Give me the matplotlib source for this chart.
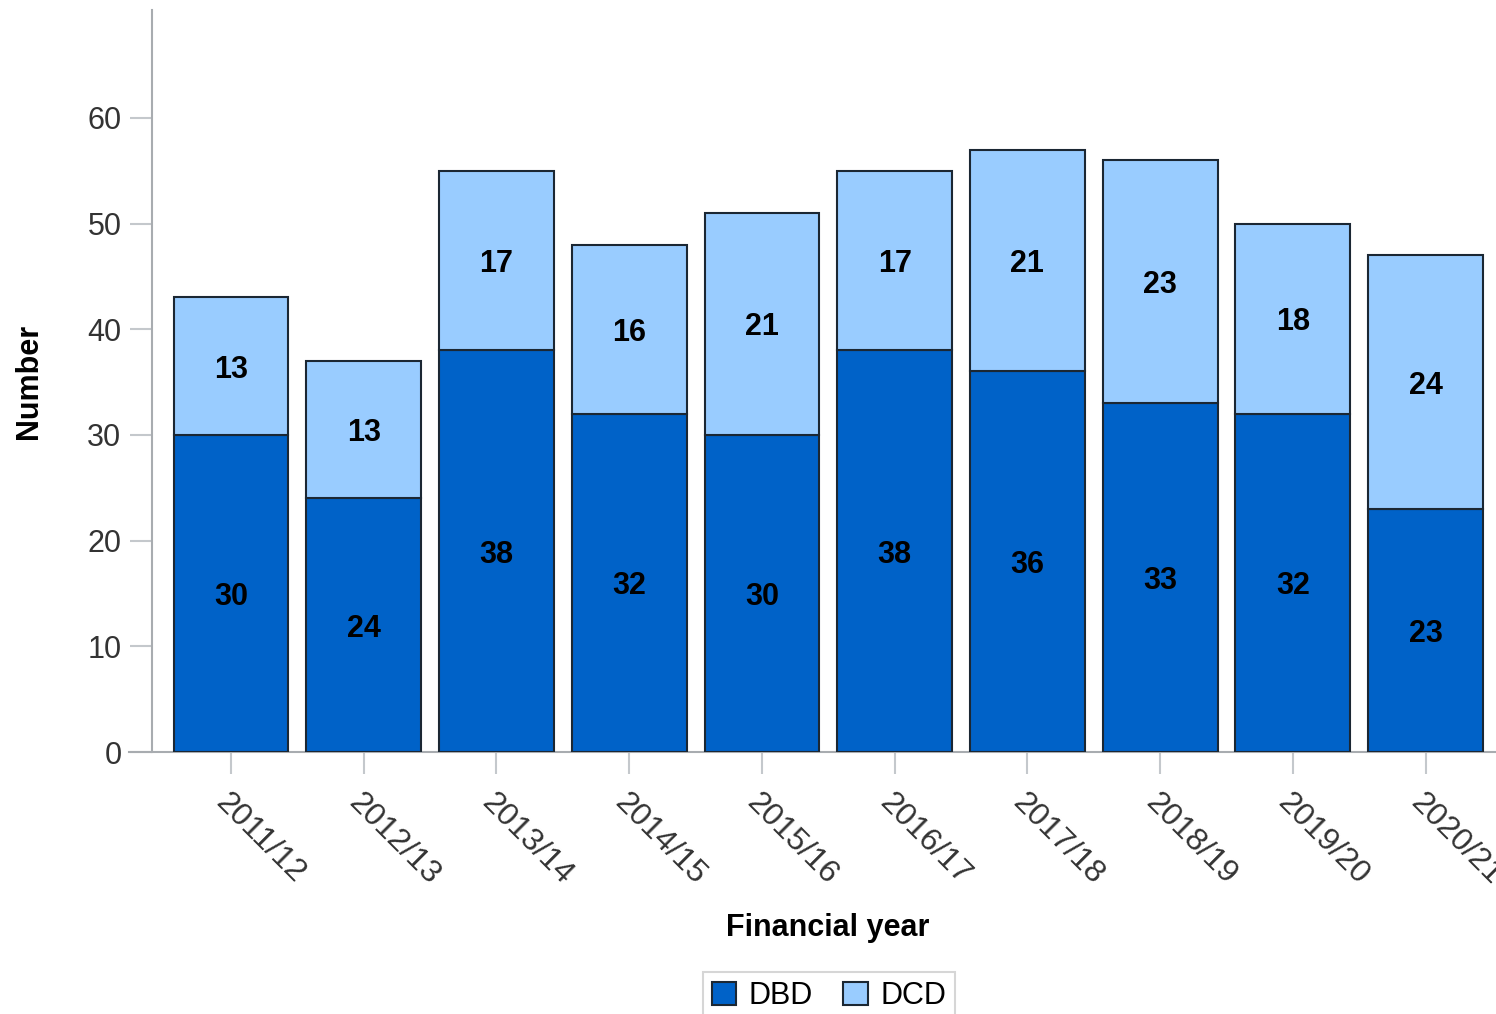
import matplotlib
matplotlib.use("Agg")
import matplotlib.pyplot as plt
import matplotlib.transforms as mtransforms
import numpy as np

years = ["2011/12", "2012/13", "2013/14", "2014/15", "2015/16",
         "2016/17", "2017/18", "2018/19", "2019/20", "2020/21"]
dbd = [30, 24, 38, 32, 30, 38, 36, 33, 32, 23]
dcd = [13, 13, 17, 16, 21, 17, 21, 23, 18, 24]
yticks = [0, 10, 20, 30, 40, 50, 60]

plt.rcParams['font.family'] = ['Liberation Sans', 'DejaVu Sans']

fig = plt.figure(figsize=(14.96, 10.14), dpi=100)
ax = fig.add_axes([152/1496, 1 - 752/1014, 1 - 152/1496, (752 - 10)/1014])

x = np.arange(len(years))
w = 0.865
c_dbd = "#0062C8"
c_dcd = "#99CCFF"
edge = "#1b2733"
b1 = ax.bar(x, dbd, width=w, color=c_dbd, edgecolor=edge, linewidth=1.5, label="DBD", zorder=3)
b2 = ax.bar(x, dcd, width=w, bottom=dbd, color=c_dcd, edgecolor=edge, linewidth=1.5, label="DCD", zorder=3)

for i in range(len(years)):
    ax.text(x[i], dbd[i] / 2, str(dbd[i]), ha='center', va='center_baseline',
            fontsize=22, fontweight='bold', color='black', zorder=4)
    ax.text(x[i], dbd[i] + dcd[i] / 2, str(dcd[i]), ha='center', va='center_baseline',
            fontsize=22, fontweight='bold', color='black', zorder=4)

ax.set_xlim(-0.595, 9.53)
ax.set_ylim(0, 70.2)
ax.set_yticks(yticks)
ax.set_yticklabels([str(v) for v in yticks], fontsize=22, color='#333333')
ax.set_xticks(x)
ax.set_xticklabels(years, fontsize=23, color='#333333', rotation=-45,
                   ha='left', va='top', rotation_mode='anchor')
offset = mtransforms.ScaledTranslation(-22/100, 3/100, fig.dpi_scale_trans)
for lab in ax.get_xticklabels():
    lab.set_transform(lab.get_transform() + offset)

for s in ['top', 'right']:
    ax.spines[s].set_visible(False)
ax.spines['left'].set_color('#a8acb0')
ax.spines['bottom'].set_color('#a8acb0')
ax.spines['left'].set_linewidth(1.5)
ax.spines['bottom'].set_linewidth(1.5)
ax.spines['bottom'].set_bounds(-0.77, 9.53)
ax.tick_params(axis='both', direction='out', length=16, width=1.5, color='#c4c8cc', pad=6)
ax.tick_params(axis='x', length=16, pad=10)

ax.set_ylabel("Number", fontsize=22, fontweight='bold')
ax.set_xlabel("Financial year", fontsize=22, fontweight='bold')
ax.yaxis.set_label_coords((29 - 152) / 1344, 0.5)
ax.yaxis.label.set_va('center')
ax.xaxis.set_label_coords((828 - 152) / 1344, -(928 - 752) / 742)
ax.xaxis.label.set_va('center')

leg = fig.legend(handles=[b1, b2], labels=["DBD", "DCD"], loc='center',
                 bbox_to_anchor=(829/1496, 1 - 996/1014), ncol=2, fontsize=22,
                 frameon=True, fancybox=False, edgecolor='#cccccc',
                 handlelength=0.8, handleheight=0.8, handletextpad=0.4,
                 columnspacing=1.0, borderpad=0.3)
leg.get_frame().set_linewidth(1.5)

fig.savefig("out.png", dpi=100)
